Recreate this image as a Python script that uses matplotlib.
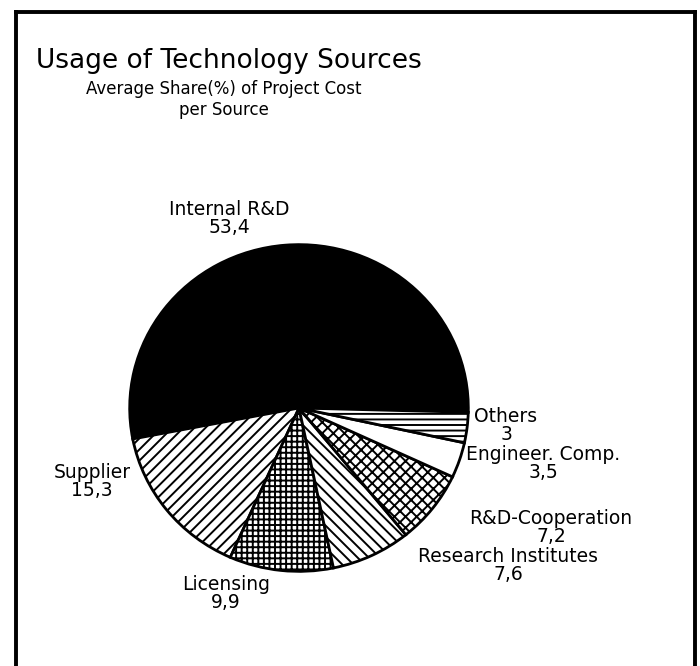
import matplotlib
matplotlib.use("Agg")
import matplotlib.pyplot as plt
from matplotlib.lines import Line2D

categories = ["Internal R&D", "Supplier", "Licensing", "Research Institutes",
              "R&D-Cooperation", "Engineer. Comp.", "Others"]
values = [53.4, 15.3, 9.9, 7.6, 7.2, 3.5, 3.0]
value_labels = ["53,4", "15,3", "9,9", "7,6", "7,2", "3,5", "3"]
title = "Usage of Technology Sources"
subtitle_lines = ["Average Share(%) of Project Cost", "per Source"]

plt.rcParams['hatch.linewidth'] = 1.4
plt.rcParams['hatch.color'] = 'black'
plt.rcParams['font.family'] = ['DejaVu Sans']

fig = plt.figure(figsize=(7.0, 6.66), dpi=100)
fig.patch.set_facecolor('white')

# overlay axes in pixel coordinates
bg = fig.add_axes([0, 0, 1, 1])
bg.set_xlim(0, 700)
bg.set_ylim(666, 0)
bg.axis('off')

# frame (bottom edge is off the picture)
for xs, ys in [([16, 16], [12, 670]), ([16, 695], [12, 12]), ([695, 695], [12, 670])]:
    bg.add_line(Line2D(xs, ys, color='black', lw=2.8))

bg.text(36, 68, title, fontsize=19, ha='left', va='baseline')
bg.text(224, 94, subtitle_lines[0], fontsize=12, ha='center', va='baseline')
bg.text(224, 115, subtitle_lines[1], fontsize=12, ha='center', va='baseline')

# pie
pie_ax = fig.add_axes([128 / 700, (666 - 573) / 666, 342 / 700, 330 / 666])
colors = ['black', 'white', 'white', 'white', 'white', 'white', 'white']
hatches = ['', '///', '+++', '\\\\\\', 'xxx', '', '---']
pie_ax.pie(values, startangle=-1.5, counterclock=True, colors=colors,
           hatch=hatches, radius=1.0,
           wedgeprops=dict(edgecolor='black', linewidth=2.0))
pie_ax.set_xlim(-1.01, 1.01)
pie_ax.set_ylim(-1.01, 1.01)
pie_ax.set_aspect('auto')
pie_ax.axis('off')

# label positions (center x, baseline y of the value line) in pixels
label_pos = [(229, 233), (92, 496), (226, 608), (508, 580),
             (551, 542), (543, 478), (506, 440)]
for cat, lab, (x, y) in zip(categories, value_labels, label_pos):
    bg.text(x, y, f"{cat}\n{lab}", fontsize=13.5, ha='center', va='baseline',
            linespacing=0.95)

fig.savefig("out.png", dpi=100, facecolor='white')
